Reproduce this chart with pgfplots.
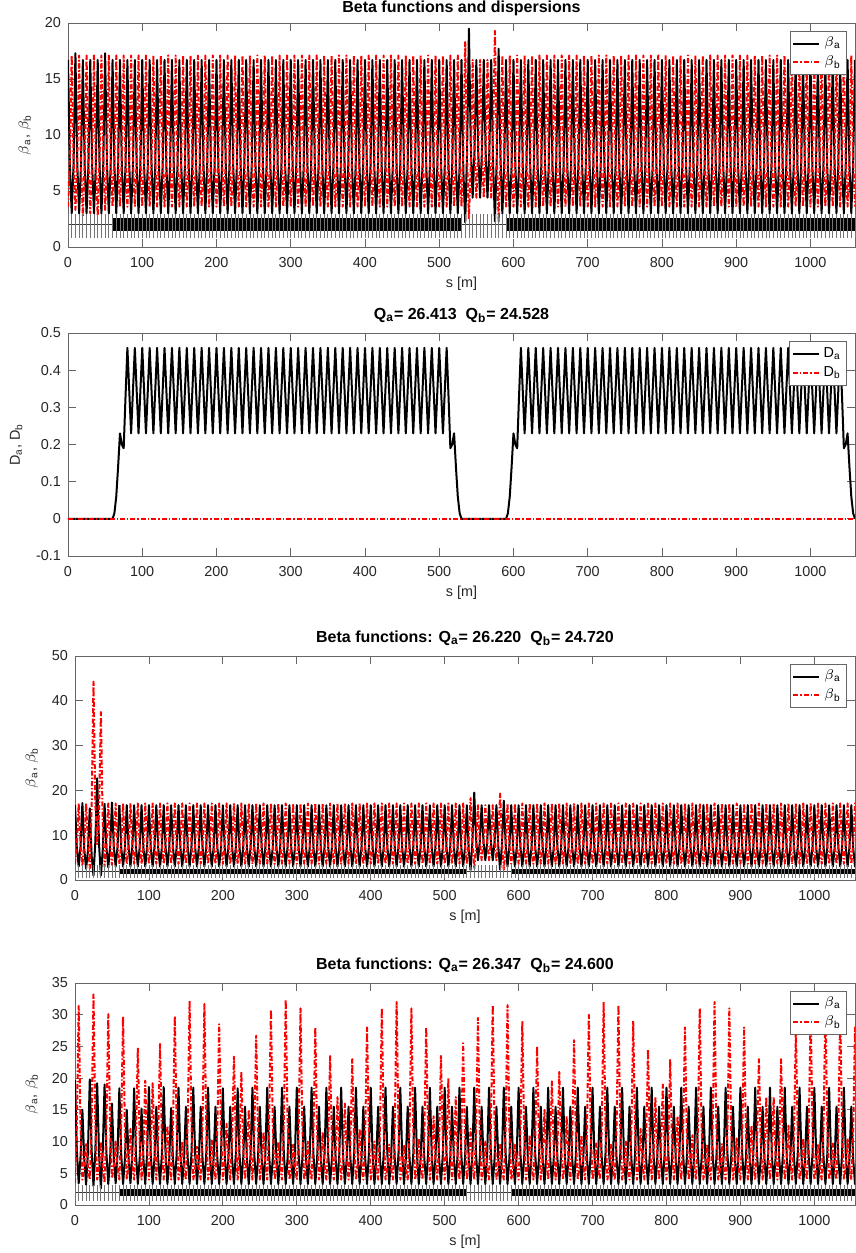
\documentclass[border=0pt]{standalone}
\usepackage{fontspec}
\setmainfont{Liberation Sans}
\usepackage{pgfplots}
\usepackage{pgfplotstable}
\pgfplotsset{compat=1.18}

% lattice functions for panels 1 and 2 (and panel 3 beyond 60 m)
\pgfplotstableread{
s ba bb D q
0 16.7 3.6 0 1.85
2.5 7.3 7.8 0 nan
5 3.0 17.1 0 1.85
7.5 7.4 7.8 0 nan
10 17.3 3.3 0 1.85
12.5 7.4 7.6 0 nan
15 3.0 17.1 0 1.85
17.5 7.3 7.4 0 nan
20 16.7 2.8 0 1.85
22.5 7.3 7.6 0 nan
25 3.0 17.1 0 1.85
27.5 7.3 7.6 0 nan
30 16.7 3.0 0 1.85
32.5 7.3 7.6 0 nan
35 3.0 17.1 0 1.85
37.5 7.3 7.4 0 nan
40 16.7 2.8 0 1.85
42.5 7.3 7.8 0 nan
45 3.0 17.1 0 1.85
47.5 7.4 7.8 0 nan
50 17.3 3.3 0 1.85
52.5 7.4 7.8 0 nan
55 3.0 17.1 0 1.85
57.5 7.3 7.8 0 nan
60 16.7 3.6 0 1.85
62.5 7.3 7.8 0.015 nan
65 3.0 17.1 0.06 1.85
67.5 7.3 7.8 0.14 nan
70 16.7 3.6 0.23 1.85
72.5 7.3 7.8 0.2 nan
75 3.0 17.1 0.19 1.85
77.5 7.3 7.8 0.33 nan
80 16.7 3.6 0.46 1.85
82.5 7.3 7.8 0.345 nan
85 3.0 17.1 0.23 1.85
87.5 7.3 7.8 0.345 nan
90 16.7 3.6 0.46 1.85
92.5 7.3 7.8 0.345 nan
95 3.0 17.1 0.23 1.85
97.5 7.3 7.8 0.345 nan
100 16.7 3.6 0.46 1.85
102.5 7.3 7.8 0.345 nan
105 3.0 17.1 0.23 1.85
107.5 7.3 7.8 0.345 nan
110 16.7 3.6 0.46 1.85
112.5 7.3 7.8 0.345 nan
115 3.0 17.1 0.23 1.85
117.5 7.3 7.8 0.345 nan
120 16.7 3.6 0.46 1.85
122.5 7.3 7.8 0.345 nan
125 3.0 17.1 0.23 1.85
127.5 7.3 7.8 0.345 nan
130 16.7 3.6 0.46 1.85
132.5 7.3 7.8 0.345 nan
135 3.0 17.1 0.23 1.85
137.5 7.3 7.8 0.345 nan
140 16.7 3.6 0.46 1.85
142.5 7.3 7.8 0.345 nan
145 3.0 17.1 0.23 1.85
147.5 7.3 7.8 0.345 nan
150 16.7 3.6 0.46 1.85
152.5 7.3 7.8 0.345 nan
155 3.0 17.1 0.23 1.85
157.5 7.3 7.8 0.345 nan
160 16.7 3.6 0.46 1.85
162.5 7.3 7.8 0.345 nan
165 3.0 17.1 0.23 1.85
167.5 7.3 7.8 0.345 nan
170 16.7 3.6 0.46 1.85
172.5 7.3 7.8 0.345 nan
175 3.0 17.1 0.23 1.85
177.5 7.3 7.8 0.345 nan
180 16.7 3.6 0.46 1.85
182.5 7.3 7.8 0.345 nan
185 3.0 17.1 0.23 1.85
187.5 7.3 7.8 0.345 nan
190 16.7 3.6 0.46 1.85
192.5 7.3 7.8 0.345 nan
195 3.0 17.1 0.23 1.85
197.5 7.3 7.8 0.345 nan
200 16.7 3.6 0.46 1.85
202.5 7.3 7.8 0.345 nan
205 3.0 17.1 0.23 1.85
207.5 7.3 7.8 0.345 nan
210 16.7 3.6 0.46 1.85
212.5 7.3 7.8 0.345 nan
215 3.0 17.1 0.23 1.85
217.5 7.3 7.8 0.345 nan
220 16.7 3.6 0.46 1.85
222.5 7.3 7.8 0.345 nan
225 3.0 17.1 0.23 1.85
227.5 7.3 7.8 0.345 nan
230 16.7 3.6 0.46 1.85
232.5 7.3 7.8 0.345 nan
235 3.0 17.1 0.23 1.85
237.5 7.3 7.8 0.345 nan
240 16.7 3.6 0.46 1.85
242.5 7.3 7.8 0.345 nan
245 3.0 17.1 0.23 1.85
247.5 7.3 7.8 0.345 nan
250 16.7 3.6 0.46 1.85
252.5 7.3 7.8 0.345 nan
255 3.0 17.1 0.23 1.85
257.5 7.3 7.8 0.345 nan
260 16.7 3.6 0.46 1.85
262.5 7.3 7.8 0.345 nan
265 3.0 17.1 0.23 1.85
267.5 7.3 7.8 0.345 nan
270 16.7 3.6 0.46 1.85
272.5 7.3 7.8 0.345 nan
275 3.0 17.1 0.23 1.85
277.5 7.3 7.8 0.345 nan
280 16.7 3.6 0.46 1.85
282.5 7.3 7.8 0.345 nan
285 3.0 17.1 0.23 1.85
287.5 7.3 7.8 0.345 nan
290 16.7 3.6 0.46 1.85
292.5 7.3 7.8 0.345 nan
295 3.0 17.1 0.23 1.85
297.5 7.3 7.8 0.345 nan
300 16.7 3.6 0.46 1.85
302.5 7.3 7.8 0.345 nan
305 3.0 17.1 0.23 1.85
307.5 7.3 7.8 0.345 nan
310 16.7 3.6 0.46 1.85
312.5 7.3 7.8 0.345 nan
315 3.0 17.1 0.23 1.85
317.5 7.3 7.8 0.345 nan
320 16.7 3.6 0.46 1.85
322.5 7.3 7.8 0.345 nan
325 3.0 17.1 0.23 1.85
327.5 7.3 7.8 0.345 nan
330 16.7 3.6 0.46 1.85
332.5 7.3 7.8 0.345 nan
335 3.0 17.1 0.23 1.85
337.5 7.3 7.8 0.345 nan
340 16.7 3.6 0.46 1.85
342.5 7.3 7.8 0.345 nan
345 3.0 17.1 0.23 1.85
347.5 7.3 7.8 0.345 nan
350 16.7 3.6 0.46 1.85
352.5 7.3 7.8 0.345 nan
355 3.0 17.1 0.23 1.85
357.5 7.3 7.8 0.345 nan
360 16.7 3.6 0.46 1.85
362.5 7.3 7.8 0.345 nan
365 3.0 17.1 0.23 1.85
367.5 7.3 7.8 0.345 nan
370 16.7 3.6 0.46 1.85
372.5 7.3 7.8 0.345 nan
375 3.0 17.1 0.23 1.85
377.5 7.3 7.8 0.345 nan
380 16.7 3.6 0.46 1.85
382.5 7.3 7.8 0.345 nan
385 3.0 17.1 0.23 1.85
387.5 7.3 7.8 0.345 nan
390 16.7 3.6 0.46 1.85
392.5 7.3 7.8 0.345 nan
395 3.0 17.1 0.23 1.85
397.5 7.3 7.8 0.345 nan
400 16.7 3.6 0.46 1.85
402.5 7.3 7.8 0.345 nan
405 3.0 17.1 0.23 1.85
407.5 7.3 7.8 0.345 nan
410 16.7 3.6 0.46 1.85
412.5 7.3 7.8 0.345 nan
415 3.0 17.1 0.23 1.85
417.5 7.3 7.8 0.345 nan
420 16.7 3.6 0.46 1.85
422.5 7.3 7.8 0.345 nan
425 3.0 17.1 0.23 1.85
427.5 7.3 7.8 0.345 nan
430 16.7 3.6 0.46 1.85
432.5 7.3 7.8 0.345 nan
435 3.0 17.1 0.23 1.85
437.5 7.3 7.8 0.345 nan
440 16.7 3.6 0.46 1.85
442.5 7.3 7.8 0.345 nan
445 3.0 17.1 0.23 1.85
447.5 7.3 7.8 0.345 nan
450 16.7 3.6 0.46 1.85
452.5 7.3 7.8 0.345 nan
455 3.0 17.1 0.23 1.85
457.5 7.3 7.8 0.345 nan
460 16.7 3.6 0.46 1.85
462.5 7.3 7.8 0.345 nan
465 3.0 17.1 0.23 1.85
467.5 7.3 7.8 0.345 nan
470 16.7 3.6 0.46 1.85
472.5 7.3 7.8 0.345 nan
475 3.0 17.1 0.23 1.85
477.5 7.3 7.8 0.345 nan
480 16.7 3.6 0.46 1.85
482.5 7.3 7.8 0.345 nan
485 3.0 17.1 0.23 1.85
487.5 7.3 7.8 0.345 nan
490 16.7 3.6 0.46 1.85
492.5 7.3 7.8 0.345 nan
495 3.0 17.1 0.23 1.85
497.5 7.3 7.8 0.345 nan
500 16.7 3.6 0.46 1.85
502.5 7.3 7.8 0.345 nan
505 3.0 17.1 0.23 1.85
507.5 7.3 7.8 0.345 nan
510 16.7 3.6 0.46 1.85
512.5 7.3 7.8 0.33 nan
515 3.0 17.1 0.19 1.85
517.5 7.3 7.8 0.2 nan
520 16.7 3.6 0.23 1.85
522.5 7.3 7.8 0.14 nan
525 3.0 17.1 0.06 1.85
527.5 7.3 7.8 0.015 nan
530 16.7 3.6 0 1.85
532.5 6.8 9.0 0 nan
535 2.2 18.3 0 1.85
537.5 8.5 8.0 0 nan
540 19.5 2.5 0 1.85
542.5 9.0 7.5 0 nan
545 4.4 16.7 0 1.85
547.5 8.5 8.5 0 nan
550 16.7 4.4 0 1.85
552.5 8.5 8.5 0 nan
555 4.4 16.7 0 1.85
557.5 8.5 8.5 0 nan
560 16.7 4.4 0 1.85
562.5 8.5 8.5 0 nan
565 4.4 16.7 0 1.85
567.5 8.5 8.5 0 nan
570 16.7 4.4 0 1.85
572.5 7.5 9.5 0 nan
575 2.3 19.3 0 1.85
577.5 8.0 8.5 0 nan
580 17.7 2.2 0 1.85
582.5 8.0 7.6 0 nan
585 3.0 17.1 0 1.85
587.5 7.3 7.8 0 nan
590 16.7 3.6 0 1.85
592.5 7.3 7.8 0.015 nan
595 3.0 17.1 0.06 1.85
597.5 7.3 7.8 0.14 nan
600 16.7 3.6 0.23 1.85
602.5 7.3 7.8 0.2 nan
605 3.0 17.1 0.19 1.85
607.5 7.3 7.8 0.33 nan
610 16.7 3.6 0.46 1.85
612.5 7.3 7.8 0.345 nan
615 3.0 17.1 0.23 1.85
617.5 7.3 7.8 0.345 nan
620 16.7 3.6 0.46 1.85
622.5 7.3 7.8 0.345 nan
625 3.0 17.1 0.23 1.85
627.5 7.3 7.8 0.345 nan
630 16.7 3.6 0.46 1.85
632.5 7.3 7.8 0.345 nan
635 3.0 17.1 0.23 1.85
637.5 7.3 7.8 0.345 nan
640 16.7 3.6 0.46 1.85
642.5 7.3 7.8 0.345 nan
645 3.0 17.1 0.23 1.85
647.5 7.3 7.8 0.345 nan
650 16.7 3.6 0.46 1.85
652.5 7.3 7.8 0.345 nan
655 3.0 17.1 0.23 1.85
657.5 7.3 7.8 0.345 nan
660 16.7 3.6 0.46 1.85
662.5 7.3 7.8 0.345 nan
665 3.0 17.1 0.23 1.85
667.5 7.3 7.8 0.345 nan
670 16.7 3.6 0.46 1.85
672.5 7.3 7.8 0.345 nan
675 3.0 17.1 0.23 1.85
677.5 7.3 7.8 0.345 nan
680 16.7 3.6 0.46 1.85
682.5 7.3 7.8 0.345 nan
685 3.0 17.1 0.23 1.85
687.5 7.3 7.8 0.345 nan
690 16.7 3.6 0.46 1.85
692.5 7.3 7.8 0.345 nan
695 3.0 17.1 0.23 1.85
697.5 7.3 7.8 0.345 nan
700 16.7 3.6 0.46 1.85
702.5 7.3 7.8 0.345 nan
705 3.0 17.1 0.23 1.85
707.5 7.3 7.8 0.345 nan
710 16.7 3.6 0.46 1.85
712.5 7.3 7.8 0.345 nan
715 3.0 17.1 0.23 1.85
717.5 7.3 7.8 0.345 nan
720 16.7 3.6 0.46 1.85
722.5 7.3 7.8 0.345 nan
725 3.0 17.1 0.23 1.85
727.5 7.3 7.8 0.345 nan
730 16.7 3.6 0.46 1.85
732.5 7.3 7.8 0.345 nan
735 3.0 17.1 0.23 1.85
737.5 7.3 7.8 0.345 nan
740 16.7 3.6 0.46 1.85
742.5 7.3 7.8 0.345 nan
745 3.0 17.1 0.23 1.85
747.5 7.3 7.8 0.345 nan
750 16.7 3.6 0.46 1.85
752.5 7.3 7.8 0.345 nan
755 3.0 17.1 0.23 1.85
757.5 7.3 7.8 0.345 nan
760 16.7 3.6 0.46 1.85
762.5 7.3 7.8 0.345 nan
765 3.0 17.1 0.23 1.85
767.5 7.3 7.8 0.345 nan
770 16.7 3.6 0.46 1.85
772.5 7.3 7.8 0.345 nan
775 3.0 17.1 0.23 1.85
777.5 7.3 7.8 0.345 nan
780 16.7 3.6 0.46 1.85
782.5 7.3 7.8 0.345 nan
785 3.0 17.1 0.23 1.85
787.5 7.3 7.8 0.345 nan
790 16.7 3.6 0.46 1.85
792.5 7.3 7.8 0.345 nan
795 3.0 17.1 0.23 1.85
797.5 7.3 7.8 0.345 nan
800 16.7 3.6 0.46 1.85
802.5 7.3 7.8 0.345 nan
805 3.0 17.1 0.23 1.85
807.5 7.3 7.8 0.345 nan
810 16.7 3.6 0.46 1.85
812.5 7.3 7.8 0.345 nan
815 3.0 17.1 0.23 1.85
817.5 7.3 7.8 0.345 nan
820 16.7 3.6 0.46 1.85
822.5 7.3 7.8 0.345 nan
825 3.0 17.1 0.23 1.85
827.5 7.3 7.8 0.345 nan
830 16.7 3.6 0.46 1.85
832.5 7.3 7.8 0.345 nan
835 3.0 17.1 0.23 1.85
837.5 7.3 7.8 0.345 nan
840 16.7 3.6 0.46 1.85
842.5 7.3 7.8 0.345 nan
845 3.0 17.1 0.23 1.85
847.5 7.3 7.8 0.345 nan
850 16.7 3.6 0.46 1.85
852.5 7.3 7.8 0.345 nan
855 3.0 17.1 0.23 1.85
857.5 7.3 7.8 0.345 nan
860 16.7 3.6 0.46 1.85
862.5 7.3 7.8 0.345 nan
865 3.0 17.1 0.23 1.85
867.5 7.3 7.8 0.345 nan
870 16.7 3.6 0.46 1.85
872.5 7.3 7.8 0.345 nan
875 3.0 17.1 0.23 1.85
877.5 7.3 7.8 0.345 nan
880 16.7 3.6 0.46 1.85
882.5 7.3 7.8 0.345 nan
885 3.0 17.1 0.23 1.85
887.5 7.3 7.8 0.345 nan
890 16.7 3.6 0.46 1.85
892.5 7.3 7.8 0.345 nan
895 3.0 17.1 0.23 1.85
897.5 7.3 7.8 0.345 nan
900 16.7 3.6 0.46 1.85
902.5 7.3 7.8 0.345 nan
905 3.0 17.1 0.23 1.85
907.5 7.3 7.8 0.345 nan
910 16.7 3.6 0.46 1.85
912.5 7.3 7.8 0.345 nan
915 3.0 17.1 0.23 1.85
917.5 7.3 7.8 0.345 nan
920 16.7 3.6 0.46 1.85
922.5 7.3 7.8 0.345 nan
925 3.0 17.1 0.23 1.85
927.5 7.3 7.8 0.345 nan
930 16.7 3.6 0.46 1.85
932.5 7.3 7.8 0.345 nan
935 3.0 17.1 0.23 1.85
937.5 7.3 7.8 0.345 nan
940 16.7 3.6 0.46 1.85
942.5 7.3 7.8 0.345 nan
945 3.0 17.1 0.23 1.85
947.5 7.3 7.8 0.345 nan
950 16.7 3.6 0.46 1.85
952.5 7.3 7.8 0.345 nan
955 3.0 17.1 0.23 1.85
957.5 7.3 7.8 0.345 nan
960 16.7 3.6 0.46 1.85
962.5 7.3 7.8 0.345 nan
965 3.0 17.1 0.23 1.85
967.5 7.3 7.8 0.345 nan
970 16.7 3.6 0.46 1.85
972.5 7.3 7.8 0.345 nan
975 3.0 17.1 0.23 1.85
977.5 7.3 7.8 0.345 nan
980 16.7 3.6 0.46 1.85
982.5 7.3 7.8 0.345 nan
985 3.0 17.1 0.23 1.85
987.5 7.3 7.8 0.345 nan
990 16.7 3.6 0.46 1.85
992.5 7.3 7.8 0.345 nan
995 3.0 17.1 0.23 1.85
997.5 7.3 7.8 0.345 nan
1000 16.7 3.6 0.46 1.85
1002.5 7.3 7.8 0.345 nan
1005 3.0 17.1 0.23 1.85
1007.5 7.3 7.8 0.345 nan
1010 16.7 3.6 0.46 1.85
1012.5 7.3 7.8 0.345 nan
1015 3.0 17.1 0.23 1.85
1017.5 7.3 7.8 0.345 nan
1020 16.7 3.6 0.46 1.85
1022.5 7.3 7.8 0.345 nan
1025 3.0 17.1 0.23 1.85
1027.5 7.3 7.8 0.345 nan
1030 16.7 3.6 0.46 1.85
1032.5 7.3 7.8 0.345 nan
1035 3.0 17.1 0.23 1.85
1037.5 7.3 7.8 0.345 nan
1040 16.7 3.6 0.46 1.85
1042.5 7.3 7.8 0.33 nan
1045 3.0 17.1 0.19 1.85
1047.5 7.3 7.8 0.2 nan
1050 16.7 3.6 0.23 1.85
1052.5 7.3 7.8 0.14 nan
1055 3.0 17.1 0.06 1.85
1057.5 7.3 7.8 0.015 nan
1060 16.7 3.6 0 1.85
}\tabA

% panel 3, first straight section (0-60 m)
\pgfplotstableread{
s ba bb
0 16.7 3.6
2.5 7.3 7.8
5 3.0 17.1
7.5 7.5 7.8
10 17.2 3.2
12.5 7.0 7.8
15 2.5 17.1
17.5 6.5 8.5
20 16.0 2.6
22.5 5.5 16.0
25 1.0 44.3
27.5 8.5 17.0
30 22.7 8.0
32.5 8.0 15.0
35 1.0 37.5
37.5 6.5 13.0
40 17.0 3.0
42.5 7.3 7.8
45 2.8 17.1
47.5 7.4 7.8
50 17.3 3.4
52.5 7.4 7.8
55 3.0 17.1
57.5 7.3 7.8
60 16.7 3.6
}\tabC

% panel 4
\pgfplotstableread{
s ba bb
0 19.7 3.5
2.5 8.6 12.5
5 3.4 31.4
7.5 7.6 12.5
10 15.0 4.0
12.5 7.3 6.0
15 3.2 9.6
17.5 8.3 6.0
20 19.8 4.0
22.5 8.6 13.0
25 3.0 33.2
27.5 8.4 13.0
30 19.2 4.0
32.5 8.2 6.0
35 2.6 10.0
37.5 8.3 6.0
40 19.0 3.5
42.5 8.2 12.5
45 3.3 30.1
47.5 7.3 12.5
50 16.0 4.2
52.5 7.4 6.0
55 3.4 10.0
57.5 8.0 6.0
60 18.4 4.0
62.5 8.0 12.5
65 3.3 29.7
67.5 7.2 12.0
70 15.0 4.0
72.5 7.2 6.5
75 3.4 12.0
77.5 8.0 6.5
80 18.4 4.0
82.5 8.0 10.8
85 3.3 24.8
87.5 7.3 10.0
90 15.2 4.0
92.5 7.3 9.0
95 3.3 19.6
97.5 8.0 9.0
100 18.6 4.0
102.5 8.0 9.0
105 3.3 19.2
107.5 7.3 9.5
110 15.5 4.0
112.5 7.3 11.0
115 3.3 25.4
117.5 8.0 10.5
120 18.6 4.0
122.5 8.0 6.8
125 3.3 12.5
127.5 7.3 6.5
130 15.3 4.0
132.5 7.3 12.5
135 3.3 29.8
137.5 8.0 12.5
140 18.5 4.0
142.5 8.0 6.0
145 3.3 10.0
147.5 7.3 6.0
150 15.5 4.0
152.5 7.3 13.2
155 3.3 32.2
157.5 8.0 13.0
160 18.5 4.0
162.5 8.0 5.8
165 3.3 9.2
167.5 7.3 5.8
170 15.5 4.0
172.5 7.3 13.0
175 3.3 31.7
177.5 8.0 12.8
180 18.5 4.0
182.5 8.0 6.0
185 3.3 10.2
187.5 7.3 6.0
190 15.5 4.0
192.5 7.3 12.0
195 3.3 28.5
197.5 8.0 11.8
200 18.4 4.0
202.5 8.0 7.0
205 3.3 12.8
207.5 7.3 7.0
210 15.5 4.0
212.5 7.3 10.5
215 3.3 23.4
217.5 8.0 10.2
220 18.4 4.0
222.5 8.0 9.8
225 3.3 21.0
227.5 7.3 9.0
230 15.5 4.0
232.5 7.3 7.8
235 3.3 15.0
237.5 8.0 7.6
240 18.5 4.0
242.5 8.0 11.5
245 3.3 26.7
247.5 7.3 11.5
250 15.5 4.0
252.5 7.3 6.5
255 3.3 11.5
257.5 8.0 6.5
260 18.5 4.0
262.5 8.0 12.8
265 3.3 30.8
267.5 7.3 12.8
270 15.5 4.0
272.5 7.3 6.0
275 3.3 10.0
277.5 8.0 6.0
280 18.5 4.0
282.5 8.0 13.2
285 3.3 32.4
287.5 7.3 13.2
290 15.5 4.0
292.5 7.3 6.0
295 3.3 9.5
297.5 8.0 6.0
300 18.5 4.0
302.5 8.0 12.1
305 3.3 31
307.5 7.3 12.1
310 15.5 4.0
312.5 7.3 5.8
315 3.3 10
317.5 8.0 5.8
320 18.5 4.0
322.5 8.0 11.2
325 3.3 28
327.5 7.3 11.2
330 15.5 4.0
332.5 7.3 6.3
335 3.3 11.5
337.5 8.0 6.3
340 18.5 4.0
342.5 8.0 9.9
345 3.3 23.5
347.5 7.3 9.9
350 15.5 4.0
352.5 7.3 7.9
355 3.3 17
357.5 8.0 7.9
360 18.5 4.0
362.5 8.0 7.6
365 3.3 16
367.5 7.3 7.6
370 15.5 4.0
372.5 7.3 9.7
375 3.3 23
377.5 8.0 9.7
380 18.5 4.0
382.5 8.0 6.4
385 3.3 12
387.5 7.3 6.4
390 15.5 4.0
392.5 7.3 11.2
395 3.3 28
397.5 8.0 11.2
400 18.5 4.0
402.5 8.0 5.8
405 3.3 10
407.5 7.3 5.8
410 15.5 4.0
412.5 7.3 12.1
415 3.3 31
417.5 8.0 12.1
420 18.5 4.0
422.5 8.0 5.7
425 3.3 9.5
427.5 7.3 5.7
430 15.5 4.0
432.5 7.3 12.4
435 3.3 32
437.5 8.0 12.4
440 18.5 4.0
442.5 8.0 5.7
445 3.3 9.5
447.5 7.3 5.7
450 15.5 4.0
452.5 7.3 12.1
455 3.3 31
457.5 8.0 12.1
460 18.5 4.0
462.5 8.0 6.0
465 3.3 10.5
467.5 7.3 6.0
470 15.5 4.0
472.5 7.3 11.2
475 3.3 28
477.5 8.0 11.2
480 18.5 4.0
482.5 8.0 7.0
485 3.3 14
487.5 7.3 7.0
490 15.5 4.0
492.5 7.3 9.9
495 3.3 23.5
497.5 8.0 9.9
500 18.5 4.0
502.5 8.0 8.8
505 3.3 20
507.5 7.3 8.8
510 15.5 4.0
512.5 7.3 7.9
515 3.3 17
517.5 8.0 7.9
520 18.5 4.0
522.5 8.0 10.5
525 3.3 25.5
527.5 7.3 10.5
530 15.5 4.0
532.5 7.3 6.4
535 3.3 12
537.5 8.0 6.4
540 18.5 4.0
542.5 8.0 11.7
545 3.3 29.5
547.5 7.3 11.7
550 15.5 4.0
552.5 7.3 5.8
555 3.3 10
557.5 8.0 5.8
560 18.5 4.0
562.5 8.0 12.3
565 3.3 31.5
567.5 7.3 12.3
570 15.5 4.0
572.5 7.3 5.7
575 3.3 9.5
577.5 8.0 5.7
580 18.5 4.0
582.5 8.0 12.3
585 3.3 31.5
587.5 7.3 12.3
590 15.5 4.0
592.5 7.3 5.7
595 3.3 9.5
597.5 8.0 5.7
600 18.5 4.0
602.5 8.0 11.5
605 3.3 29
607.5 7.3 11.5
610 15.5 4.0
612.5 7.3 6.1
615 3.3 11
617.5 8.0 6.1
620 18.5 4.0
622.5 8.0 10.3
625 3.3 25
627.5 7.3 10.3
630 15.5 4.0
632.5 7.3 7.3
635 3.3 15
637.5 8.0 7.3
640 18.5 4.0
642.5 8.0 8.7
645 3.3 19.5
647.5 7.3 8.7
650 15.5 4.0
652.5 7.3 9.1
655 3.3 21
657.5 8.0 9.1
660 18.5 4.0
662.5 8.0 7.0
665 3.3 14
667.5 7.3 7.0
670 15.5 4.0
672.5 7.3 10.6
675 3.3 26
677.5 8.0 10.6
680 18.5 4.0
682.5 8.0 6.1
685 3.3 11
687.5 7.3 6.1
690 15.5 4.0
692.5 7.3 11.8
695 3.3 30
697.5 8.0 11.8
700 18.5 4.0
702.5 8.0 5.7
705 3.3 9.7
707.5 7.3 5.7
710 15.5 4.0
712.5 7.3 12.4
715 3.3 32
717.5 8.0 12.4
720 18.5 4.0
722.5 8.0 5.7
725 3.3 9.5
727.5 7.3 5.7
730 15.5 4.0
732.5 7.3 12.3
735 3.3 31.5
737.5 8.0 12.3
740 18.5 4.0
742.5 8.0 5.8
745 3.3 10
747.5 7.3 5.8
750 15.5 4.0
752.5 7.3 11.5
755 3.3 29
757.5 8.0 11.5
760 18.5 4.0
762.5 8.0 6.4
765 3.3 12
767.5 7.3 6.4
770 15.5 4.0
772.5 7.3 10.2
775 3.3 24.5
777.5 8.0 10.2
780 18.5 4.0
782.5 8.0 7.9
785 3.3 17
787.5 7.3 7.9
790 15.5 4.0
792.5 7.3 8.5
795 3.3 19
797.5 8.0 8.5
800 18.5 4.0
802.5 8.0 9.7
805 3.3 23
807.5 7.3 9.7
810 15.5 4.0
812.5 7.3 7.0
815 3.3 14
817.5 8.0 7.0
820 18.5 4.0
822.5 8.0 11.2
825 3.3 28
827.5 7.3 11.2
830 15.5 4.0
832.5 7.3 6.1
835 3.3 11
837.5 8.0 6.1
840 18.5 4.0
842.5 8.0 12.1
845 3.3 31
847.5 7.3 12.1
850 15.5 4.0
852.5 7.3 5.7
855 3.3 9.5
857.5 8.0 5.7
860 18.5 4.0
862.5 8.0 12.4
865 3.3 32
867.5 7.3 12.4
870 15.5 4.0
872.5 7.3 5.7
875 3.3 9.6
877.5 8.0 5.7
880 18.5 4.0
882.5 8.0 12.1
885 3.3 31
887.5 7.3 12.1
890 15.5 4.0
892.5 7.3 6.0
895 3.3 10.5
897.5 8.0 6.0
900 18.5 4.0
902.5 8.0 11.2
905 3.3 28
907.5 7.3 11.2
910 15.5 4.0
912.5 7.3 6.6
915 3.3 12.5
917.5 8.0 6.6
920 18.5 4.0
922.5 8.0 9.7
925 3.3 23
927.5 7.3 9.7
930 15.5 4.0
932.5 7.3 7.9
935 3.3 17
937.5 8.0 7.9
940 18.5 4.0
942.5 8.0 7.9
945 3.3 17
947.5 7.3 7.9
950 15.5 4.0
952.5 7.3 9.7
955 3.3 23
957.5 8.0 9.7
960 18.5 4.0
962.5 8.0 6.6
965 3.3 12.5
967.5 7.3 6.6
970 15.5 4.0
972.5 7.3 11.2
975 3.3 28
977.5 8.0 11.2
980 18.5 4.0
982.5 8.0 6.0
985 3.3 10.5
987.5 7.3 6.0
990 15.5 4.0
992.5 7.3 12.1
995 3.3 31
997.5 8.0 12.1
1000 18.5 4.0
1002.5 8.0 5.7
1005 3.3 9.6
1007.5 7.3 5.7
1010 15.5 4.0
1012.5 7.3 12.4
1015 3.3 32
1017.5 8.0 12.4
1020 18.5 4.0
1022.5 8.0 5.7
1025 3.3 9.7
1027.5 7.3 5.7
1030 15.5 4.0
1032.5 7.3 12.1
1035 3.3 31
1037.5 8.0 12.1
1040 18.5 4.0
1042.5 8.0 6.0
1045 3.3 10.5
1047.5 7.3 6.0
1050 15.5 4.0
1052.5 7.3 11.2
1055 3.3 28
1057.5 8.0 11.2
1060 18.5 4.0
}\tabD

\pgfplotsset{
  panel/.style={
    scale only axis, xmin=0,
    xtick={0,100,...,1000},
    scaled ticks=false,
    /pgf/number format/1000 sep={},
    /pgf/number format/assume math mode=true,
    tick align=inside, major tick length=4pt,
    axis line style={black!60, line width=0.4pt},
    tick style={black!60, line width=0.4pt},
    tick label style={font=\fontsize{7.2}{8}\selectfont, text=black!85},
    xticklabel style={yshift=-1.5pt},
    label style={font=\fontsize{7.2}{8}\selectfont, text=black!85},
    title style={font=\bfseries\fontsize{8}{9.6}\selectfont, yshift=-4.2pt},
    xlabel={s [m]},
    xlabel style={yshift=2pt},
    legend cell align=left,
    legend style={at={(0.99,0.965)}, anchor=north east, draw=black!60,
      line width=0.4pt, font=\fontsize{7.2}{8}\selectfont,
      inner sep=1pt, row sep=-1pt},
    legend image code/.code={\draw[#1] (0pt,0pt) -- (13pt,0pt);},
  },
  ba/.style={black, line width=1pt, line join=round},
  bb/.style={red, line width=1pt, line join=round,
    dash pattern=on 2.5pt off 1pt on 0.7pt off 1pt},
}

\begin{document}
\begin{tikzpicture}
\path[use as bounding box] (0,0) rectangle (428pt,626.5pt);

% ---------- panel 1
\begin{axis}[panel, at={(34pt,503pt)}, anchor=south west,
  width=393.5pt, height=112pt, xmax=1060,
  ymin=0, ymax=20, ytick={0,5,10,15,20},
  title={Beta functions and dispersions},
  title style={yshift=-1.7pt},
  ylabel={$\beta$\textsubscript{a}, $\beta$\textsubscript{b}}]
\addplot[forget plot, only marks, mark=|, mark size=5.9pt,
  mark options={black!55, line width=0.4pt}] table[x=s, y=q] {\tabA};
\addplot[forget plot, black!80, line width=0.3pt] coordinates {(0,2) (1060,2)};
\addplot[forget plot, black, line width=6.2pt] coordinates {(60,2) (530,2)};
\addplot[forget plot, black, line width=6.2pt] coordinates {(590,2) (1060,2)};
\addplot[ba] table[x=s, y=ba] {\tabA};
\addlegendentry{$\beta$\textsubscript{a}}
\addplot[bb] table[x=s, y=bb] {\tabA};
\addlegendentry{$\beta$\textsubscript{b}}
\end{axis}

% ---------- panel 2
\begin{axis}[panel, at={(34pt,348.5pt)}, anchor=south west,
  width=393.5pt, height=111.5pt, xmax=1060,
  ymin=-0.1, ymax=0.5, ytick={-0.1,0,0.1,0.2,0.3,0.4,0.5},
  title={Q\textsubscript{a}= 26.413\ \ Q\textsubscript{b}= 24.528},
  ylabel={D\textsubscript{a}, D\textsubscript{b}}]
\addplot[ba] table[x=s, y=D] {\tabA};
\addlegendentry{D\textsubscript{a}}
\addplot[bb] coordinates {(0,0) (1060,0)};
\addlegendentry{D\textsubscript{b}}
\end{axis}

% ---------- panel 3
\begin{axis}[panel, at={(37.5pt,186.5pt)}, anchor=south west,
  width=390pt, height=112pt, xmax=1055,
  ymin=0, ymax=50, ytick={0,10,20,30,40,50},
  title={Beta functions: Q\textsubscript{a}= 26.220\ \ Q\textsubscript{b}= 24.720},
  ylabel={$\beta$\textsubscript{a}, $\beta$\textsubscript{b}}]
\addplot[forget plot, only marks, mark=|, mark size=3.2pt,
  mark options={black!55, line width=0.4pt}] table[x=s, y=q] {\tabA};
\addplot[forget plot, black!80, line width=0.3pt] coordinates {(0,2) (1060,2)};
\addplot[forget plot, black, line width=2.5pt] coordinates {(60,2) (530,2)};
\addplot[forget plot, black, line width=2.5pt] coordinates {(590,2) (1060,2)};
\addplot[ba, restrict x to domain=60:1060] table[x=s, y=ba] {\tabA};
\addlegendentry{$\beta$\textsubscript{a}}
\addplot[ba, forget plot] table[x=s, y=ba] {\tabC};
\addplot[bb, restrict x to domain=60:1060] table[x=s, y=bb] {\tabA};
\addlegendentry{$\beta$\textsubscript{b}}
\addplot[bb, forget plot] table[x=s, y=bb] {\tabC};
\end{axis}

% ---------- panel 4
\begin{axis}[panel, at={(37.5pt,24pt)}, anchor=south west,
  width=390pt, height=111pt, xmax=1055,
  ymin=0, ymax=35, ytick={0,5,10,15,20,25,30,35},
  title={Beta functions: Q\textsubscript{a}= 26.347\ \ Q\textsubscript{b}= 24.600},
  ylabel={$\beta$\textsubscript{a}, $\beta$\textsubscript{b}}]
\addplot[forget plot, only marks, mark=|, mark size=4.1pt,
  mark options={black!55, line width=0.4pt}] table[x=s, y=q] {\tabA};
\addplot[forget plot, black!80, line width=0.3pt] coordinates {(0,2) (1060,2)};
\addplot[forget plot, black, line width=3.5pt] coordinates {(60,2) (530,2)};
\addplot[forget plot, black, line width=3.5pt] coordinates {(590,2) (1060,2)};
\addplot[ba] table[x=s, y=ba] {\tabD};
\addlegendentry{$\beta$\textsubscript{a}}
\addplot[bb] table[x=s, y=bb] {\tabD};
\addlegendentry{$\beta$\textsubscript{b}}
\end{axis}
\end{tikzpicture}
\end{document}
